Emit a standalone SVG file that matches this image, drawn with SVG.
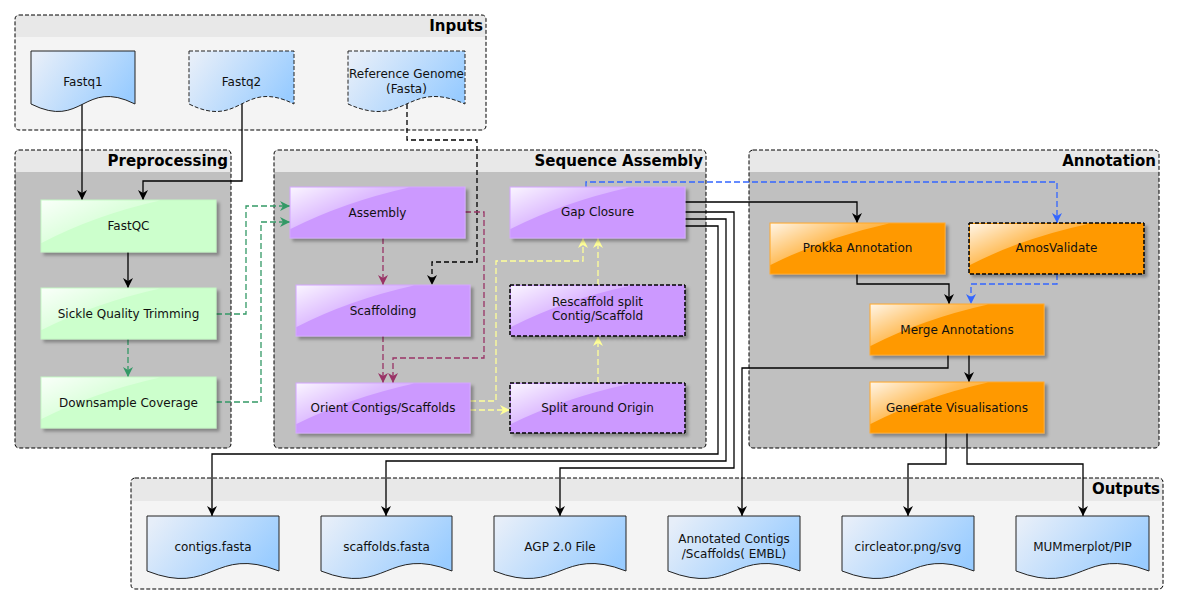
<svg xmlns="http://www.w3.org/2000/svg" width="1179" height="605" viewBox="0 0 1179 605">
<style>
.grp{stroke:#000;stroke-width:1;stroke-dasharray:4,2;fill:none}
.hdr{fill:#e8e8e8}
.bodyL{fill:#f4f4f4}
.bodyD{fill:#c0c0c0}
.gt{font-family:"DejaVu Sans",sans-serif;font-weight:bold;font-size:15px;text-anchor:end;fill:#000}
.t{font-family:"DejaVu Sans",sans-serif;font-size:12px;text-anchor:middle;fill:#111}
.doc{fill:url(#gDoc);stroke:#222;stroke-width:1}
.dash{stroke-dasharray:4,2}
.green{fill:#ccffcc;stroke:#c4f7c4;stroke-width:1}
.purple{fill:#cc99ff;stroke:#d3a8ff;stroke-width:1}
.orange{fill:#ff9900;stroke:#ffaa33;stroke-width:1}
.dn{stroke:#000;stroke-dasharray:4,2}
.gl{fill:url(#gGloss)}
.c{fill:none;stroke-width:1.3}
.k{stroke:#000;marker-end:url(#aK)}
.kd{stroke:#000;stroke-dasharray:5,3;marker-end:url(#aK)}
.gr{stroke:#339966;stroke-dasharray:6,3;marker-end:url(#aG)}
.mr{stroke:#993366;stroke-dasharray:6,3;marker-end:url(#aM)}
.yl{stroke:#ffff99;stroke-dasharray:6,3;marker-end:url(#aY)}
.bl{stroke:#3366ff;stroke-dasharray:6,3;marker-end:url(#aB)}
</style>
<defs>
<linearGradient id="gDoc" x1="0" y1="0.2" x2="1" y2="0.6">
<stop offset="0" stop-color="#e6eef9"/>
<stop offset="1" stop-color="#99ccff"/>
</linearGradient>
<linearGradient id="gGloss" x1="0" y1="0" x2="0.9" y2="0.7">
<stop offset="0" stop-color="#fff" stop-opacity="0.9"/>
<stop offset="0.55" stop-color="#fff" stop-opacity="0.35"/>
<stop offset="1" stop-color="#fff" stop-opacity="0.1"/>
</linearGradient>
<filter id="sh" x="-10%" y="-10%" width="130%" height="140%">
<feDropShadow dx="3" dy="3" stdDeviation="1.5" flood-color="#000" flood-opacity="0.3"/>
</filter>
<marker id="aK" viewBox="0 0 10 10" refX="10" refY="5" markerWidth="11" markerHeight="10" markerUnits="userSpaceOnUse" orient="auto"><path d="M0,0 L10,5 L0,10 L3,5 Z" fill="#000"/></marker>
<marker id="aG" viewBox="0 0 10 10" refX="10" refY="5" markerWidth="11" markerHeight="10" markerUnits="userSpaceOnUse" orient="auto"><path d="M0,0 L10,5 L0,10 L3,5 Z" fill="#339966"/></marker>
<marker id="aM" viewBox="0 0 10 10" refX="10" refY="5" markerWidth="11" markerHeight="10" markerUnits="userSpaceOnUse" orient="auto"><path d="M0,0 L10,5 L0,10 L3,5 Z" fill="#993366"/></marker>
<marker id="aY" viewBox="0 0 10 10" refX="10" refY="5" markerWidth="11" markerHeight="10" markerUnits="userSpaceOnUse" orient="auto"><path d="M0,0 L10,5 L0,10 L3,5 Z" fill="#ffff99"/></marker>
<marker id="aB" viewBox="0 0 10 10" refX="10" refY="5" markerWidth="11" markerHeight="10" markerUnits="userSpaceOnUse" orient="auto"><path d="M0,0 L10,5 L0,10 L3,5 Z" fill="#3366ff"/></marker>
</defs>

<!-- containers -->
<g id="grp-inputs">
<rect class="bodyL" x="15" y="15" width="471" height="115" rx="4"/>
<path class="hdr" d="M15,37 V19 Q15,15 19,15 H482 Q486,15 486,19 V37 Z"/>
<rect class="grp" x="15" y="15" width="471" height="115" rx="4"/>
<text class="gt" x="483" y="31">Inputs</text>
</g>
<g id="grp-preprocessing">
<rect class="bodyD" x="15" y="150" width="216" height="298" rx="4"/>
<path class="hdr" d="M15,172 V154 Q15,150 19,150 H227 Q231,150 231,154 V172 Z"/>
<rect class="grp" x="15" y="150" width="216" height="298" rx="4"/>
<text class="gt" x="228" y="166">Preprocessing</text>
</g>
<g id="grp-assembly">
<rect class="bodyD" x="274" y="150" width="432" height="298" rx="4"/>
<path class="hdr" d="M274,172 V154 Q274,150 278,150 H702 Q706,150 706,154 V172 Z"/>
<rect class="grp" x="274" y="150" width="432" height="298" rx="4"/>
<text class="gt" x="703" y="166">Sequence Assembly</text>
</g>
<g id="grp-annotation">
<rect class="bodyD" x="749" y="150" width="410" height="298" rx="4"/>
<path class="hdr" d="M749,172 V154 Q749,150 753,150 H1155 Q1159,150 1159,154 V172 Z"/>
<rect class="grp" x="749" y="150" width="410" height="298" rx="4"/>
<text class="gt" x="1156" y="166">Annotation</text>
</g>
<g id="grp-outputs">
<rect class="bodyL" x="131" y="478" width="1032" height="111" rx="4"/>
<path class="hdr" d="M131,501 V482 Q131,478 135,478 H1159 Q1163,478 1163,482 V501 Z"/>
<rect class="grp" x="131" y="478" width="1032" height="111" rx="4"/>
<text class="gt" x="1160" y="494">Outputs</text>
</g>

<!-- connectors -->
<g id="connectors">
<path class="c k" d="M82,104 V200"/>
<path class="c k" d="M242,104 V181 H143 V200"/>
<path class="c kd" d="M407,104 V140 H477 V262 H432 V285"/>
<path class="c k" d="M128,252 V288"/>
<path class="c gr" d="M128,339 V377"/>
<path class="c gr" d="M216,314 H246 V206 H290"/>
<path class="c gr" d="M216,402 H261 V222 H290"/>
<path class="c mr" d="M383,238 V285"/>
<path class="c mr" d="M383,336 V383"/>
<path class="c mr" d="M465,212 H484 V358 H393 V383"/>
<path class="c yl" d="M470,410 H510"/>
<path class="c yl" d="M470,401 H496 V261 H583 V238"/>
<path class="c yl" d="M598,383 V336"/>
<path class="c yl" d="M598,285 V238"/>
<path class="c bl" d="M586,187 V182 H1057 V223"/>
<path class="c k" d="M685,202 H857 V223"/>
<path class="c k" d="M685,226 H718 V454 H212 V516"/>
<path class="c k" d="M685,219 H726 V461 H386 V516"/>
<path class="c k" d="M685,212 H734 V468 H560 V516"/>
<path class="c k" d="M857,274 V284 H949 V304"/>
<path class="c bl" d="M1057,274 V284 H971 V304"/>
<path class="c k" d="M969,355 V382"/>
<path class="c k" d="M948,355 V368 H742 V516"/>
<path class="c k" d="M946,433 V464 H908 V516"/>
<path class="c k" d="M967,433 V464 H1083 V516"/>
</g>

<!-- input documents -->
<g id="fastq1"><path class="doc" d="M31,51 H135 V104 C83,78 83,130 31,104 Z"/><text class="t" x="83" y="86">Fastq1</text></g>
<g id="fastq2"><path class="doc dash" d="M189,51 H294 V104 C241.5,78 241.5,130 189,104 Z"/><text class="t" x="241.5" y="86">Fastq2</text></g>
<g id="reference"><path class="doc dash" d="M348,51 H465 V104 C406.5,78 406.5,130 348,104 Z"/><text class="t" x="406.5" y="78">Reference Genome</text><text class="t" x="406.5" y="93">(Fasta)</text></g>

<!-- preprocessing -->
<g id="fastqc"><rect class="green" x="41" y="200" width="175" height="52" filter="url(#sh)"/><path class="gl" d="M41.5,200.5 H160 Q95,215 41.5,243 Z"/><text class="t" x="128.5" y="230">FastQC</text></g>
<g id="sickle"><rect class="green" x="41" y="288" width="175" height="51" filter="url(#sh)"/><path class="gl" d="M41.5,288.5 H160 Q95,303 41.5,330 Z"/><text class="t" x="128.5" y="318">Sickle Quality Trimming</text></g>
<g id="downsample"><rect class="green" x="41" y="377" width="175" height="51" filter="url(#sh)"/><path class="gl" d="M41.5,377.5 H160 Q95,392 41.5,419 Z"/><text class="t" x="128.5" y="407">Downsample Coverage</text></g>

<!-- sequence assembly -->
<g id="assembly"><rect class="purple" x="290" y="187" width="175" height="51" filter="url(#sh)"/><path class="gl" d="M290.5,187.5 H409 Q344,202 290.5,229 Z"/><text class="t" x="377.5" y="217">Assembly</text></g>
<g id="scaffolding"><rect class="purple" x="296" y="285" width="174" height="51" filter="url(#sh)"/><path class="gl" d="M296.5,285.5 H414 Q349,300 296.5,327 Z"/><text class="t" x="383" y="315">Scaffolding</text></g>
<g id="orient"><rect class="purple" x="296" y="383" width="174" height="50" filter="url(#sh)"/><path class="gl" d="M296.5,383.5 H414 Q349,398 296.5,424 Z"/><text class="t" x="383" y="412">Orient Contigs/Scaffolds</text></g>
<g id="gapclosure"><rect class="purple" x="510" y="187" width="175" height="51" filter="url(#sh)"/><path class="gl" d="M510.5,187.5 H629 Q564,202 510.5,229 Z"/><text class="t" x="597.5" y="216">Gap Closure</text></g>
<g id="rescaffold"><rect class="purple dn" x="510" y="285" width="175" height="51" filter="url(#sh)"/><path class="gl" d="M511,286 H629 Q564,300 511,327 Z"/><rect x="510" y="285" width="175" height="51" fill="none" stroke="#000" stroke-dasharray="4,2"/><text class="t" x="597.5" y="306">Rescaffold split</text><text class="t" x="597.5" y="320">Contig/Scaffold</text></g>
<g id="split"><rect class="purple dn" x="510" y="383" width="175" height="50" filter="url(#sh)"/><path class="gl" d="M511,384 H629 Q564,398 511,424 Z"/><rect x="510" y="383" width="175" height="50" fill="none" stroke="#000" stroke-dasharray="4,2"/><text class="t" x="597.5" y="412">Split around Origin</text></g>

<!-- annotation -->
<g id="prokka"><rect class="orange" x="770" y="223" width="175" height="51" filter="url(#sh)"/><path class="gl" d="M770.5,223.5 H889 Q824,238 770.5,265 Z"/><text class="t" x="857.5" y="252">Prokka Annotation</text></g>
<g id="amos"><rect class="orange dn" x="969" y="223" width="175" height="51" filter="url(#sh)"/><path class="gl" d="M970,224 H1088 Q1023,238 970,265 Z"/><rect x="969" y="223" width="175" height="51" fill="none" stroke="#000" stroke-dasharray="4,2"/><text class="t" x="1056.5" y="252">AmosValidate</text></g>
<g id="merge"><rect class="orange" x="870" y="304" width="174" height="51" filter="url(#sh)"/><path class="gl" d="M870.5,304.5 H988 Q923,319 870.5,346 Z"/><text class="t" x="957" y="334">Merge Annotations</text></g>
<g id="generate"><rect class="orange" x="870" y="382" width="174" height="51" filter="url(#sh)"/><path class="gl" d="M870.5,382.5 H988 Q923,397 870.5,424 Z"/><text class="t" x="957" y="412">Generate Visualisations</text></g>

<!-- output documents -->
<g id="contigs"><path class="doc" d="M147,516 H279 V571 C213,545 213,597 147,571 Z"/><text class="t" x="213" y="551">contigs.fasta</text></g>
<g id="scaffolds"><path class="doc" d="M321,516 H452 V571 C386.5,545 386.5,597 321,571 Z"/><text class="t" x="386.5" y="551">scaffolds.fasta</text></g>
<g id="agp"><path class="doc" d="M494,516 H626 V571 C560,545 560,597 494,571 Z"/><text class="t" x="560" y="551">AGP 2.0 File</text></g>
<g id="annotated"><path class="doc" d="M668,516 H800 V571 C734,545 734,597 668,571 Z"/><text class="t" x="734" y="543">Annotated Contigs</text><text class="t" x="734" y="558">/Scaffolds( EMBL)</text></g>
<g id="circleator"><path class="doc" d="M842,516 H974 V571 C908,545 908,597 842,571 Z"/><text class="t" x="908" y="551">circleator.png/svg</text></g>
<g id="mummer"><path class="doc" d="M1016,516 H1149 V571 C1082.5,545 1082.5,597 1016,571 Z"/><text class="t" x="1082.5" y="551">MUMmerplot/PIP</text></g>
</svg>
